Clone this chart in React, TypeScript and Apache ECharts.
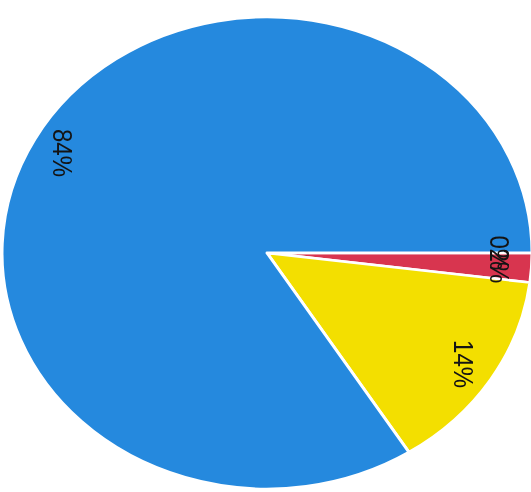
import { useEffect, useRef } from "react";
import * as echarts from "echarts";

const categories = ["Other", "Red", "Yellow", "Blue"];
const values = [0, 2, 14, 84];
const colors = ["#3aa35a", "#d8354f", "#f3df00", "#2589de"];

export default function App() {
  const ref = useRef<HTMLDivElement>(null);
  useEffect(() => {
    const chart = echarts.init(ref.current!, null, { renderer: "svg" });
    const sliceData = categories.map((name, i) => ({
      name,
      value: values[i],
      itemStyle: { color: colors[i] },
    }));
    const labelData = categories.map((name, i) => ({ name, value: values[i] }));
    chart.setOption({
      animation: false,
      series: [
        {
          type: "pie",
          center: [267, 284],
          radius: 265,
          startAngle: 0,
          clockwise: true,
          silent: true,
          label: { show: false },
          labelLine: { show: false },
          itemStyle: { borderColor: "#ffffff", borderWidth: 3 },
          data: sliceData,
        },
        {
          type: "pie",
          center: [267, 284],
          radius: 460,
          startAngle: 0,
          clockwise: true,
          avoidLabelOverlap: false,
          labelLayout: { hideOverlap: false },
          silent: true,
          itemStyle: { color: "transparent", borderWidth: 0 },
          label: {
            show: true,
            position: "inside",
            rotate: -90,
            formatter: "{c}%",
            fontSize: 27,
            fontFamily: "Liberation Sans",
            color: "#141414",
          },
          labelLine: { show: false },
          data: labelData,
        },
      ],
    });
    return () => chart.dispose();
  }, []);
  return (
    <div
      ref={ref}
      style={{
        position: "fixed",
        left: 0,
        top: 0,
        width: 531,
        height: 552,
        transform: "scaleY(0.8906)",
        transformOrigin: "0 0",
      }}
    />
  );
}
